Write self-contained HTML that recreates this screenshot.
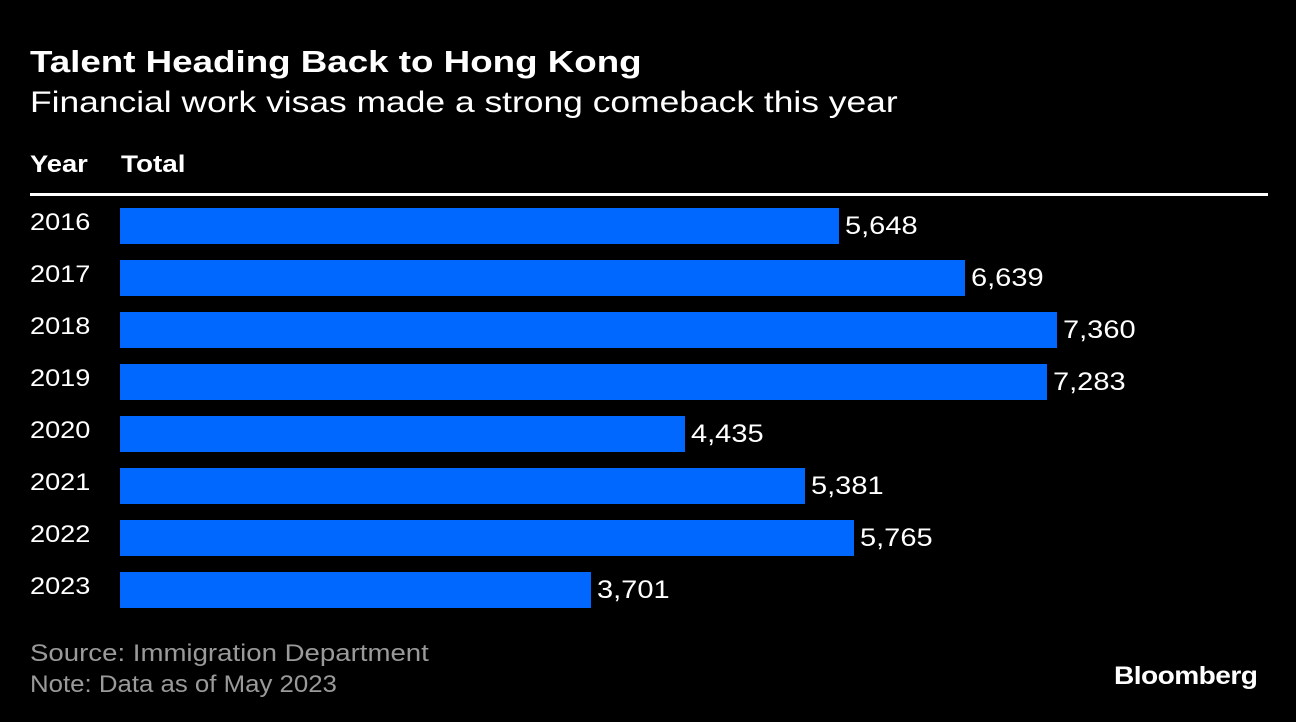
<!DOCTYPE html>
<html><head><meta charset="utf-8"><style>
html,body{margin:0;padding:0;background:#000;}
body{width:1296px;height:722px;position:relative;overflow:hidden;font-family:"Liberation Sans",sans-serif;color:#fff;}
.abs{position:absolute;white-space:nowrap;transform-origin:0 0;}
</style></head><body>
<div class="abs" style="left:30px;top:44px;font-size:31px;font-weight:bold;transform:scaleX(1.185);">Talent Heading Back to Hong Kong</div>
<div class="abs" style="left:30px;top:86px;font-size:30px;transform:scaleX(1.18);">Financial work visas made a strong comeback this year</div>
<div class="abs" style="left:30px;top:151px;font-size:24px;font-weight:bold;transform:scaleX(1.14);">Year</div>
<div class="abs" style="left:121px;top:151px;font-size:24px;font-weight:bold;transform:scaleX(1.16);">Total</div>
<div class="abs" style="left:30px;top:193px;width:1238px;height:3px;background:#fff;"></div>
<div id="rows"></div>
<div class="abs" style="left:30px;top:638px;font-size:24px;color:#9a9a9a;line-height:31px;transform:scaleX(1.15);">Source: Immigration Department</div>
<div class="abs" style="left:30px;top:669px;font-size:24px;color:#9a9a9a;line-height:31px;transform:scaleX(1.075);">Note: Data as of May 2023</div>
<div class="abs" style="left:1114px;top:662px;font-size:25px;font-weight:bold;letter-spacing:-0.5px;transform:scaleX(1.125);">Bloomberg</div>
<script>
const years = ["2016","2017","2018","2019","2020","2021","2022","2023"];
const totals = [5648,6639,7360,7283,4435,5381,5765,3701];
const labels = ["5,648","6,639","7,360","7,283","4,435","5,381","5,765","3,701"];
const x0 = 120, pxPerUnit = 719/5648, top0 = 208, pitch = 52, barH = 36;
function xLen(v){return v*pxPerUnit;}
const rows = document.getElementById('rows');
years.forEach((y,i)=>{
  const t = top0 + i*pitch;
  const yl = document.createElement('div');
  yl.className='abs';
  
  
  yl.style.cssText=`left:30px;top:${t+1}px;font-size:24px;transform:scaleX(1.13);`;
  yl.textContent=y;
  rows.appendChild(yl);
  const w = xLen(totals[i]);
  const b = document.createElement('div');
  b.className='abs';
  
  
  b.style.cssText=`left:${x0}px;top:${t}px;width:${w}px;height:${barH}px;background:#0068ff;`;
  rows.appendChild(b);
  const v = document.createElement('div');
  v.className='abs';
  
  
  v.style.cssText=`left:${x0+w+6}px;top:${t+4}px;font-size:25px;transform:scaleX(1.16);`;
  v.textContent=labels[i];
  rows.appendChild(v);
});
</script>
</body></html>
